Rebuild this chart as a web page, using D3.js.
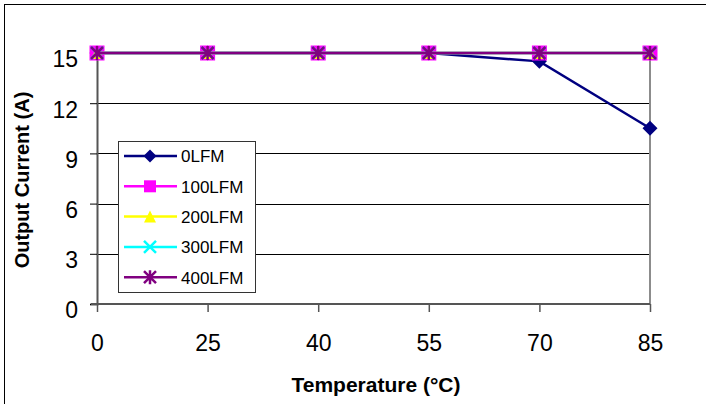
<!DOCTYPE html>
<html>
<head>
<meta charset="utf-8">
<script src="https://cdn.jsdelivr.net/npm/d3@7"></script>
<style>
  html, body { margin: 0; padding: 0; background: #fff; }
  svg { display: block; font-family: "Liberation Sans", Arial, sans-serif; }
</style>
</head>
<body>
<svg id="chart" width="706" height="404"></svg>
<script>
// Temperature categories (°C) along the x axis
const temperatures = ["0", "25", "40", "55", "70", "85"];

// Output current (A) for each airflow
const series0LFM   = [15, 15, 15, 15, 14.5, 10.5];
const series100LFM = [15, 15, 15, 15, 15, 15];
const series200LFM = [15, 15, 15, 15, 15, 15];
const series300LFM = [15, 15, 15, 15, 15, 15];
const series400LFM = [15, 15, 15, 15, 15, 15];

const seriesNames = ["0LFM", "100LFM", "200LFM", "300LFM", "400LFM"];
const seriesColors = ["#000080", "#FF00FF", "#FFFF00", "#00FFFF", "#800080"];
const seriesMarkers = ["diamond", "square", "triangle", "cross", "star"];

// Y axis tick values
const yTicks = [0, 3, 6, 9, 12, 15];

const seriesData = [series0LFM, series100LFM, series200LFM, series300LFM, series400LFM];
const series = seriesNames.map((name, i) => ({
  name, color: seriesColors[i], marker: seriesMarkers[i], values: seriesData[i]
}));

const svg = d3.select("#chart");
const plot = { left: 97, right: 650, top: 53, bottom: 304 };

const x = d3.scalePoint().domain(temperatures).range([plot.left, plot.right]);
const y = d3.scaleLinear().domain([0, 15]).range([plot.bottom, plot.top]);

// Outer chart frame (runs off the right and bottom edges)
svg.append("rect")
  .attr("x", 4.5).attr("y", 4.5).attr("width", 900).attr("height", 600)
  .attr("fill", "none").attr("stroke", "#000").attr("stroke-width", 1);

// Horizontal gridlines
svg.append("g").selectAll("line")
  .data(yTicks.filter(v => v > 0))
  .join("line")
  .attr("x1", plot.left).attr("x2", plot.right)
  .attr("y1", d => Math.round(y(d)) + 0.5).attr("y2", d => Math.round(y(d)) + 0.5)
  .attr("stroke", "#000").attr("stroke-width", 1);

// Right border of the plot area
svg.append("line")
  .attr("x1", plot.right).attr("x2", plot.right)
  .attr("y1", plot.top).attr("y2", plot.bottom)
  .attr("stroke", "#8c8c8c").attr("stroke-width", 2);

// Y axis
const yAxis = svg.append("g")
  .attr("transform", `translate(${plot.left},0)`)
  .call(d3.axisLeft(y).tickValues(yTicks).tickSize(7).tickPadding(12).tickFormat(d3.format("d")));
yAxis.select(".domain").attr("stroke", "#555").attr("stroke-width", 2);
yAxis.selectAll(".tick line").attr("stroke", "#000");
yAxis.selectAll(".tick text")
  .attr("font-size", 23).attr("fill", "#000").attr("dy", "0.6em")
  .attr("font-family", "Liberation Sans, Arial, sans-serif");

// X axis
const xAxis = svg.append("g")
  .attr("transform", `translate(0,${plot.bottom})`)
  .call(d3.axisBottom(x).tickSize(8).tickPadding(23));
xAxis.select(".domain").attr("d", `M${plot.left - 6},0H${plot.right}`)
  .attr("stroke", "#555").attr("stroke-width", 2);
xAxis.selectAll(".tick line").attr("stroke", "#555").attr("stroke-width", 1.5);
xAxis.selectAll(".tick text")
  .attr("font-size", 23).attr("fill", "#000")
  .attr("font-family", "Liberation Sans, Arial, sans-serif");

// Marker shapes
function markerPath(type, s) {
  const h = s / 2;
  switch (type) {
    case "diamond": return `M0,${-h}L${h},0L0,${h}L${-h},0Z`;
    case "square": return `M${-h},${-h}H${h}V${h}H${-h}Z`;
    case "triangle": return `M0,${-h}L${h},${h}H${-h}Z`;
    case "cross": return `M${-h},${-h}L${h},${h}M${h},${-h}L${-h},${h}`;
    case "star": return `M${-h},${-h}L${h},${h}M${h},${-h}L${-h},${h}M0,${-h - 1}V${h + 1}`;
  }
}
function drawMarker(g, type, color, size) {
  const stroked = type === "cross" || type === "star";
  g.append("path")
    .attr("d", markerPath(type, size))
    .attr("fill", stroked ? "none" : color)
    .attr("stroke", stroked ? color : "none")
    .attr("stroke-width", stroked ? 2.5 : 0);
}
const markerSize = { diamond: 15, square: 15, triangle: 12, cross: 12, star: 12 };

// Series lines and markers
const line = d3.line().x((d, i) => x(temperatures[i])).y(d => y(d));
series.forEach(s => {
  const g = svg.append("g");
  g.append("path")
    .attr("d", line(s.values))
    .attr("fill", "none").attr("stroke", s.color).attr("stroke-width", 2.5);
  s.values.forEach((v, i) => {
    const m = g.append("g").attr("transform", `translate(${x(temperatures[i])},${y(v)})`);
    drawMarker(m, s.marker, s.color, markerSize[s.marker]);
  });
});

// Legend
const legend = svg.append("g");
legend.append("rect")
  .attr("x", 118.5).attr("y", 141.5).attr("width", 137).attr("height", 151)
  .attr("fill", "#fff").attr("stroke", "#333").attr("stroke-width", 1);
series.forEach((s, i) => {
  const cy = 156 + i * 30.3;
  const row = legend.append("g").attr("transform", `translate(0,${cy})`);
  row.append("line").attr("x1", 124).attr("x2", 177).attr("y1", 0).attr("y2", 0)
    .attr("stroke", s.color).attr("stroke-width", 2.5);
  const m = row.append("g").attr("transform", "translate(150,0)");
  drawMarker(m, s.marker, s.color, s.marker === "diamond" ? 13 : 12);
  row.append("text").attr("x", 181).attr("y", 0).attr("dy", "0.38em")
    .attr("font-size", 17).attr("fill", "#000").text(s.name);
});

// Axis titles
svg.append("text")
  .attr("transform", "translate(29,180) rotate(-90)")
  .attr("text-anchor", "middle")
  .attr("font-size", 20).attr("font-weight", "bold").attr("fill", "#000")
  .text("Output Current (A)");

svg.append("text")
  .attr("x", 376).attr("y", 392)
  .attr("text-anchor", "middle")
  .attr("font-size", 21).attr("font-weight", "bold").attr("fill", "#000")
  .text("Temperature (°C)");
</script>
</body>
</html>
